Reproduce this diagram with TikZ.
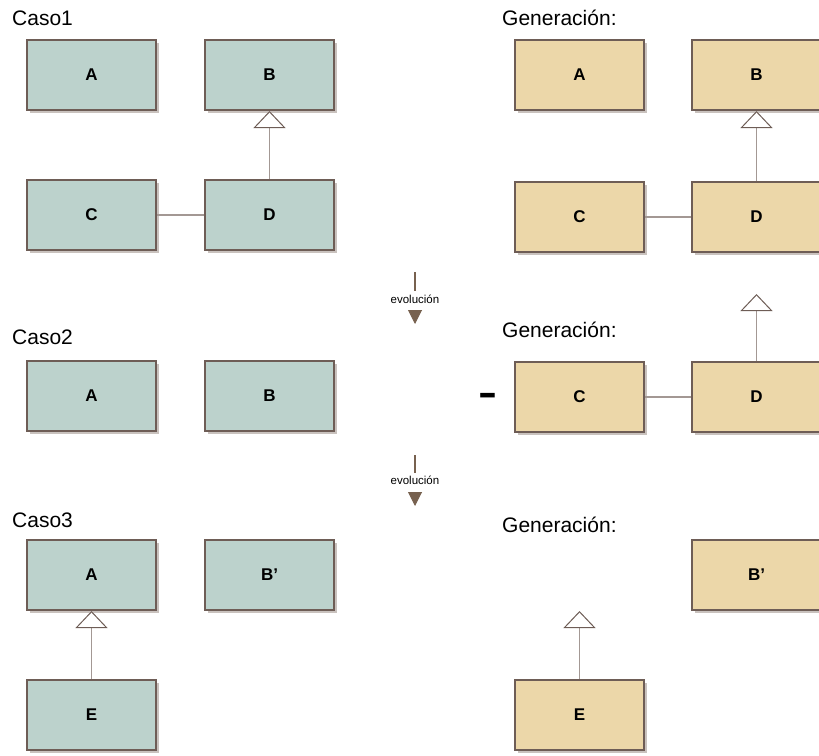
\documentclass[tikz,border=0pt]{standalone}
\usepackage{fontspec}
\setmainfont{Liberation Sans}
\usetikzlibrary{arrows.meta, shadows}
\definecolor{verdeclase}{HTML}{BCD2CC}
\definecolor{ocraclase}{HTML}{ECD7A9}
\definecolor{bordo}{HTML}{6E5D56}
\definecolor{linea}{HTML}{A39894}
\definecolor{ombra}{HTML}{C9C2BE}
\definecolor{freccia}{HTML}{77614F}

\begin{document}
\begin{tikzpicture}[x=1pt,y=-1pt,
        classe/.style={draw=bordo, line width=2pt, minimum width=129pt, minimum height=70pt, inner sep=0pt,
            font=\fontsize{17}{20}\selectfont\bfseries,
            drop shadow={shadow xshift=3pt, shadow yshift=-3pt, fill=ombra, opacity=1}},
        verde/.style={classe, fill=verdeclase},
        ocra/.style={classe, fill=ocraclase},
        titolo/.style={anchor=base west, inner sep=0pt, font=\fontsize{21}{25}\selectfont},
        assoc/.style={draw=linea, line width=1.5pt},
        gen/.style={draw=linea, line width=1.5pt, -{Triangle[length=17pt, width=32pt, fill=white, color=bordo, line width=1pt]}},
        evo/.style={draw=freccia, line width=1.5pt},
        evopunta/.style={freccia, line width=1pt, -{Triangle[length=14pt, width=14pt]}},
        evotesto/.style={anchor=base, inner sep=0pt, font=\fontsize{11.5}{13}\selectfont}]
        \useasboundingbox (0,0) rectangle (819,755);
        \clip (0,0) rectangle (819,755);
        %caso 1
            \node[titolo] (caso1) at (12,25) {Caso1};
            \node[verde] (A1) at (91.5,75) {A};
            \node[verde] (B1) at (269.5,75) {B};
            \node[verde] (C1) at (91.5,215) {C};
            \node[verde] (D1) at (269.5,215) {D};
            \draw[assoc] (C1) -- (D1);
            \draw[gen] (D1) -- (B1);
        %caso 2
            \node[titolo] (caso2) at (12,344) {Caso2};
            \node[verde] (A2) at (91.5,396) {A};
            \node[verde] (B2) at (269.5,396) {B};
        %caso 3
            \node[titolo] (caso3) at (12,527) {Caso3};
            \node[verde] (A3) at (91.5,575) {A};
            \node[verde] (B3) at (269.5,575) {B’};
            \node[verde] (E3) at (91.5,715) {E};
            \draw[gen] (E3) -- (A3);
        %frecce evoluzione
            \node[evotesto] (evo1) at (415,303) {evolución};
            \coordinate (evo1su) at (415,272);
            \coordinate (evo1giu) at (415,291);
            \coordinate (evo1base) at (415,310);
            \coordinate (evo1punta) at (415,324);
            \draw[evo] (evo1su) -- (evo1giu);
            \draw[evopunta] (evo1base) -- (evo1punta);

            \node[evotesto] (evo2) at (415,484) {evolución};
            \coordinate (evo2su) at (415,455);
            \coordinate (evo2giu) at (415,473);
            \coordinate (evo2base) at (415,492);
            \coordinate (evo2punta) at (415,506);
            \draw[evo] (evo2su) -- (evo2giu);
            \draw[evopunta] (evo2base) -- (evo2punta);
        %generazione 1
            \node[titolo] (gen1) at (502,25) {Generación:};
            \node[ocra] (GA1) at (579.5,75) {A};
            \node[ocra] (GB1) at (756.5,75) {B};
            \node[ocra] (GC1) at (579.5,217) {C};
            \node[ocra] (GD1) at (756.5,217) {D};
            \draw[assoc] (GC1) -- (GD1);
            \draw[gen] (GD1) -- (GB1);
        %generazione 2
            \node[titolo] (gen2) at (502,337) {Generación:};
            \node[anchor=base, inner sep=0pt, xscale=1.5, font=\fontsize{38}{40}\selectfont\bfseries] (meno) at (488,405.5) {-};
            \node[ocra] (GC2) at (579.5,397) {C};
            \node[ocra] (GD2) at (756.5,397) {D};
            \coordinate (GD2punta) at (756.5,294);
            \draw[assoc] (GC2) -- (GD2);
            \draw[gen] (GD2) -- (GD2punta);
        %generazione 3
            \node[titolo] (gen3) at (502,532) {Generación:};
            \node[ocra] (GB3) at (756.5,575) {B’};
            \node[ocra] (GE3) at (579.5,715) {E};
            \coordinate (GE3punta) at (579.5,611);
            \draw[gen] (GE3) -- (GE3punta);
    \end{tikzpicture}
\end{document}
